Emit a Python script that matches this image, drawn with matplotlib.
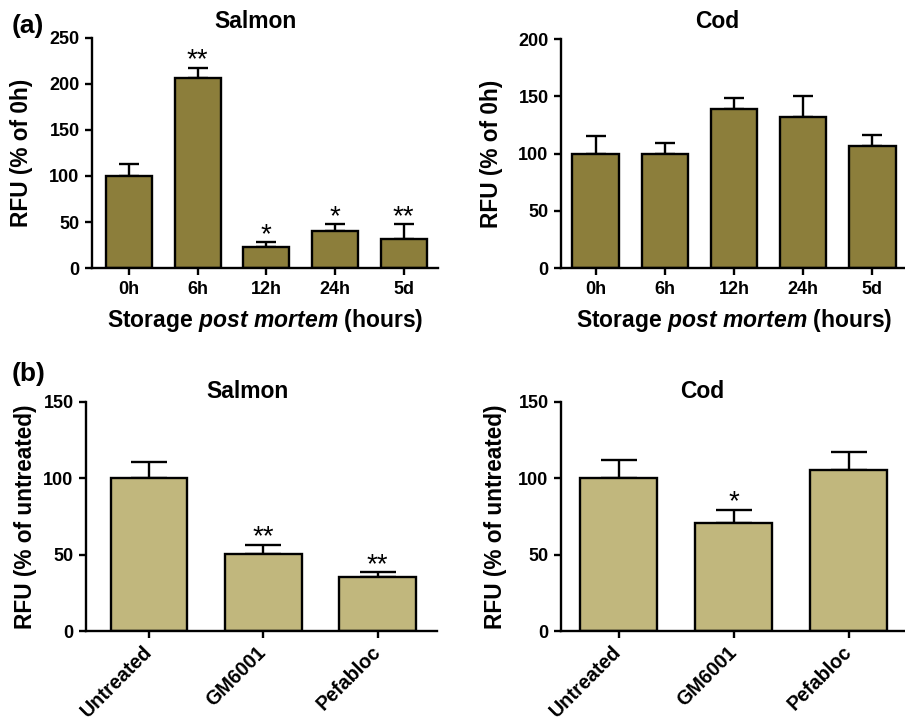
import matplotlib
matplotlib.use("Agg")
import matplotlib.pyplot as plt
import numpy as np

plt.rcParams['font.family'] = ['Liberation Sans', 'DejaVu Sans']
plt.rcParams['font.weight'] = 'bold'
plt.rcParams['mathtext.fontset'] = 'custom'
plt.rcParams['mathtext.rm'] = 'Liberation Sans:bold'
plt.rcParams['mathtext.it'] = 'Liberation Sans:italic:bold'

# --- data ---
time_labels = ['0h', '6h', '12h', '24h', '5d']
salmon_time = [100, 206, 23, 40, 31.5]
salmon_time_err = [13, 11.5, 5, 7.5, 16]
salmon_time_sig = ['', '**', '*', '*', '**']
cod_time = [100, 100, 139, 132, 106.5]
cod_time_err = [15.5, 9.5, 9.5, 18.5, 10]
cod_time_sig = ['', '', '', '', '']

treat_labels = ['Untreated', 'GM6001', 'Pefabloc']
salmon_inh = [100, 50.7, 35.4]
salmon_inh_err = [10.5, 5.6, 3]
salmon_inh_sig = ['', '**', '**']
cod_inh = [100, 71, 105.2]
cod_inh_err = [12.3, 8.3, 12.3]
cod_inh_sig = ['', '*', '']

dark = '#8c7e3b'
light = '#c1b77d'

W, H = 905, 721
fig = plt.figure(figsize=(W / 100, H / 100), dpi=100)


def px_axes(l, t, r, b):
    return fig.add_axes([l / W, 1 - b / H, (r - l) / W, (b - t) / H])


def bar_panel(ax, labels, vals, errs, sigs, color, ylim, yticks, xlim, cap, ylabel, ylab_x, rot):
    x = np.arange(len(vals))
    ax.bar(x, vals, width=0.67, color=color, edgecolor='black', linewidth=1.7, zorder=2)
    ax.errorbar(x, vals, yerr=[np.zeros(len(vals)), errs], fmt='none', ecolor='black',
                elinewidth=1.7, capsize=cap, capthick=1.7, zorder=1)
    for xi, v, e, s in zip(x, vals, errs, sigs):
        if s:
            ax.annotate(s, (xi, v + e), xytext=(0, -4), textcoords='offset points',
                        ha='center', va='bottom', fontsize=20, fontweight='normal')
    ax.set_xlim(*xlim)
    ax.set_ylim(*ylim)
    ax.set_yticks(yticks)
    ax.set_xticks(x)
    for sp in ['top', 'right']:
        ax.spines[sp].set_visible(False)
    for sp in ['left', 'bottom']:
        ax.spines[sp].set_linewidth(1.7)
    ax.tick_params(direction='out', length=5, width=1.7, labelsize=13, pad=4)
    if rot:
        ax.set_xticklabels(labels, rotation=45, ha='right', va='center',
                           rotation_mode='anchor', fontsize=14.2)
        ax.tick_params(axis='x', pad=8)
    else:
        ax.set_xticklabels(labels)
    ax.set_ylabel(ylabel, fontsize=16.3, fontweight='bold')
    ax.yaxis.set_label_coords(ylab_x, 0.5)


ax1 = px_axes(92, 38, 438, 268)
bar_panel(ax1, time_labels, salmon_time, salmon_time_err, salmon_time_sig, dark,
          (0, 250), [0, 50, 100, 150, 200, 250], (-0.54, 4.5), 7, 'RFU (% of 0h)', -0.171, False)
ax1.set_xlabel(r'Storage $\mathit{post\ mortem}$ (hours)', fontsize=16.5,
               fontweight='bold', labelpad=7)

ax2 = px_axes(561, 39, 907, 268)
bar_panel(ax2, time_labels, cod_time, cod_time_err, cod_time_sig, dark,
          (0, 200), [0, 50, 100, 150, 200], (-0.5, 4.5), 7, 'RFU (% of 0h)', -0.168, False)
ax2.set_xlabel(r'Storage $\mathit{post\ mortem}$ (hours)', fontsize=16.5,
               fontweight='bold', labelpad=7)

ax3 = px_axes(86, 402, 437, 631)
bar_panel(ax3, treat_labels, salmon_inh, salmon_inh_err, salmon_inh_sig, light,
          (0, 150), [0, 50, 100, 150], (-0.55, 2.52), 13, 'RFU (% of untreated)', -0.14, True)

ax4 = px_axes(561, 402, 905, 631)
bar_panel(ax4, treat_labels, cod_inh, cod_inh_err, cod_inh_sig, light,
          (0, 150), [0, 50, 100, 150], (-0.5, 2.49), 13, 'RFU (% of untreated)', -0.157, True)

# panel titles and letters
fig.text(255 / W, 1 - 22 / H, 'Salmon', ha='center', va='center', fontsize=16.5, fontweight='bold')
fig.text(717 / W, 1 - 22 / H, 'Cod', ha='center', va='center', fontsize=16.5, fontweight='bold')
fig.text(247 / W, 1 - 392 / H, 'Salmon', ha='center', va='center', fontsize=16.5, fontweight='bold')
fig.text(702 / W, 1 - 392 / H, 'Cod', ha='center', va='center', fontsize=16.5, fontweight='bold')
fig.text(12 / W, 1 - 26 / H, '(a)', ha='left', va='center', fontsize=19, fontweight='bold')
fig.text(12 / W, 1 - 374 / H, '(b)', ha='left', va='center', fontsize=19, fontweight='bold')

fig.savefig('out.png', dpi=100)
